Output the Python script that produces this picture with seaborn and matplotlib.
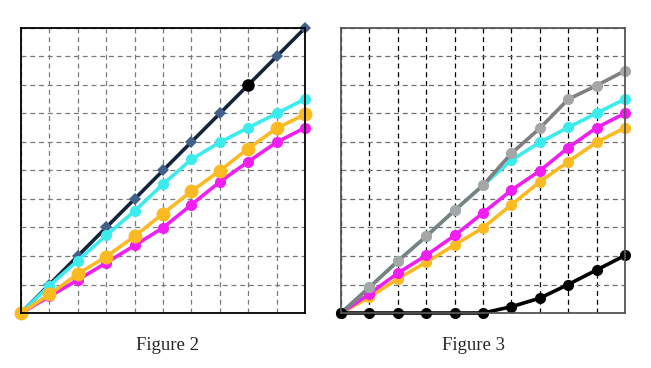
import matplotlib
matplotlib.use("Agg")
import matplotlib.pyplot as plt
import seaborn as sns

sns.set_style("white")
plt.rcParams['font.family'] = ['Liberation Serif', 'DejaVu Serif']

x = list(range(11))

# Figure 2
fig2_navy = [0, 1, 2, 3, 4, 5, 6, 7, 8, 9, 10]
fig2_cyan = [0, 0.96, 1.84, 2.72, 3.58, 4.52, 5.39, 5.99, 6.5, 7.0, 7.51]
fig2_orange = [0, 0.65, 1.37, 1.98, 2.69, 3.49, 4.27, 4.99, 5.77, 6.48, 6.97]
fig2_magenta = [0, 0.58, 1.16, 1.76, 2.37, 2.99, 3.8, 4.6, 5.31, 5.99, 6.5]
fig2_black_x = [8]
fig2_black_y = [8]

# Figure 3
fig3_grey = [0, 0.9, 1.82, 2.69, 3.6, 4.48, 5.6, 6.48, 7.5, 7.98, 8.5]
fig3_cyan = [0, 0.9, 1.82, 2.69, 3.6, 4.48, 5.36, 5.99, 6.51, 7.01, 7.51]
fig3_magenta = [0, 0.67, 1.4, 2.02, 2.72, 3.51, 4.31, 4.99, 5.8, 6.5, 7.01]
fig3_orange = [0, 0.55, 1.2, 1.78, 2.39, 2.99, 3.8, 4.6, 5.31, 5.99, 6.5]
fig3_black = [0, 0, 0, 0, 0, 0, 0.22, 0.52, 1.0, 1.51, 2.02]

CYAN = "#3CEBEB"
ORANGE = "#FBBA22"
MAGENTA = "#F01EF0"
NAVY = "#14243C"
GREY = "#7F7F7F"

fig = plt.figure(figsize=(6.51, 3.68), dpi=100)
ax1 = fig.add_axes([21 / 651, 55 / 368, 284 / 651, 285 / 368])
ax2 = fig.add_axes([341 / 651, 55 / 368, 284 / 651, 285 / 368])

kw = dict(linewidth=2.6, markersize=8, clip_on=False, markeredgewidth=0)

# Figure 2 lines
sns.lineplot(x=x, y=fig2_navy, ax=ax1, color=NAVY, marker="D",
             markerfacecolor="#41618A", **{**kw, "markersize": 6.5})
sns.lineplot(x=fig2_black_x, y=fig2_black_y, ax=ax1, color="black",
             marker="o", linestyle="none", **{**kw, "markersize": 9})
sns.lineplot(x=x, y=fig2_cyan, ax=ax1, color=CYAN, marker="o", **kw)
sns.lineplot(x=x, y=fig2_magenta, ax=ax1, color=MAGENTA, marker="o", **kw)
sns.lineplot(x=x, y=fig2_orange, ax=ax1, color=ORANGE, marker="o",
             **{**kw, "markersize": 10})

# Figure 3 lines
sns.lineplot(x=x, y=fig3_orange, ax=ax2, color=ORANGE, marker="o", **kw)
sns.lineplot(x=x, y=fig3_magenta, ax=ax2, color=MAGENTA, marker="o", **kw)
sns.lineplot(x=x, y=fig3_cyan, ax=ax2, color=CYAN, marker="o", **kw)
sns.lineplot(x=x, y=fig3_grey, ax=ax2, color=GREY, marker="o",
             markerfacecolor="#A6A6A6", **kw)
sns.lineplot(x=x, y=fig3_black, ax=ax2, color="black", marker="o", **kw)

for ax in (ax1, ax2):
    ax.set_xlim(0, 10)
    ax.set_ylim(0, 10)
    ax.set_xticks(range(11))
    ax.set_yticks(range(11))
    ax.tick_params(length=0, labelbottom=False, labelleft=False)
    ax.set_axisbelow(True)

ax1.grid(True, color="#7A7A7A", linestyle=(0, (4, 3)), linewidth=0.9)
ax2.grid(True, axis="x", color="black", linestyle=(0, (4, 3)), linewidth=0.9)
ax2.grid(True, axis="y", color="#6E6E6E", linestyle=(0, (4, 3)), linewidth=0.9)

for s in ax1.spines.values():
    s.set_color("black")
    s.set_linewidth(1.3)
for s in ax2.spines.values():
    s.set_color("#555555")
    s.set_linewidth(1.3)

fig.text(168 / 651, 1 - 346 / 368, "Figure 2", ha="center", va="center",
         fontsize=13.5)
fig.text(473 / 651, 1 - 346 / 368, "Figure 3", ha="center", va="center",
         fontsize=13.5)

fig.savefig("out.png", dpi=100, facecolor="white")
